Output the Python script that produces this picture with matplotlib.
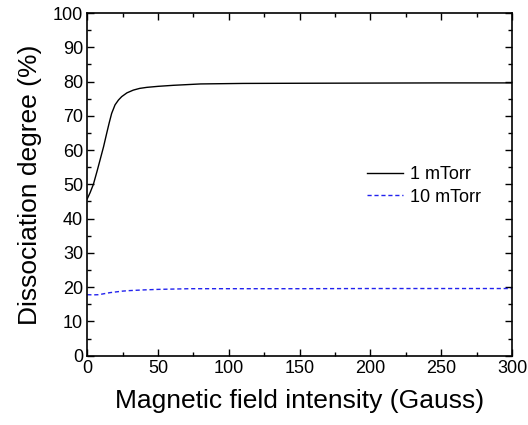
import matplotlib
matplotlib.use("Agg")
import matplotlib.pyplot as plt
from matplotlib.ticker import MultipleLocator

plt.rcParams['font.family'] = ['Liberation Sans', 'DejaVu Sans']

# 1 mTorr curve
b_1 = [0, 2, 4.3, 7, 9, 11.5, 13.7, 15.5, 17.2, 19.6, 22, 24.3, 28, 32.5, 37, 42, 50, 60.8, 80, 110, 150, 200, 250, 300]
d_1 = [45.8, 47.6, 50, 54, 57.1, 61, 64.9, 68, 70.7, 73.2, 74.6, 75.6, 76.7, 77.5, 78.0, 78.3, 78.6, 78.9, 79.3, 79.45, 79.5, 79.55, 79.6, 79.6]
# 10 mTorr curve
b_10 = [0, 4, 8, 12, 16, 20, 25, 30, 40, 50, 72.5, 100, 150, 200, 250, 300]
d_10 = [17.8, 17.75, 17.8, 18.1, 18.4, 18.6, 18.85, 19.0, 19.2, 19.35, 19.55, 19.55, 19.55, 19.6, 19.6, 19.6]

fig = plt.figure(figsize=(5.28, 4.25), dpi=100)
ax = fig.add_axes([87.3 / 528, 1 - 355.7 / 425, (512 - 87.3) / 528, (355.7 - 13) / 425])

ax.plot(b_1, d_1, '-', color='black', lw=1.0, label='1 mTorr')
ax.plot(b_10, d_10, '--', color='#2222ee', lw=1.0, dashes=(3, 2), label='10 mTorr')

ax.set_xlim(0, 300)
ax.set_ylim(0, 100)
ax.xaxis.set_major_locator(MultipleLocator(50))
ax.xaxis.set_minor_locator(MultipleLocator(25))
ax.yaxis.set_major_locator(MultipleLocator(10))
ax.yaxis.set_minor_locator(MultipleLocator(5))
ax.tick_params(which='both', direction='in', top=True, right=True, labelsize=13, width=1)
ax.tick_params(which='major', length=5, pad=3)
ax.tick_params(which='minor', length=3)
for s in ax.spines.values():
    s.set_linewidth(1.2)

ax.set_xlabel('Magnetic field intensity (Gauss)', fontsize=19, labelpad=9)
ax.set_ylabel('Dissociation degree (%)', fontsize=19, labelpad=8)

ax.legend(loc='upper left', bbox_to_anchor=(0.62, 0.60), frameon=False,
          fontsize=13, handlelength=2.0, handletextpad=0.4, labelspacing=0.3)

fig.savefig('out.png', dpi=100)
